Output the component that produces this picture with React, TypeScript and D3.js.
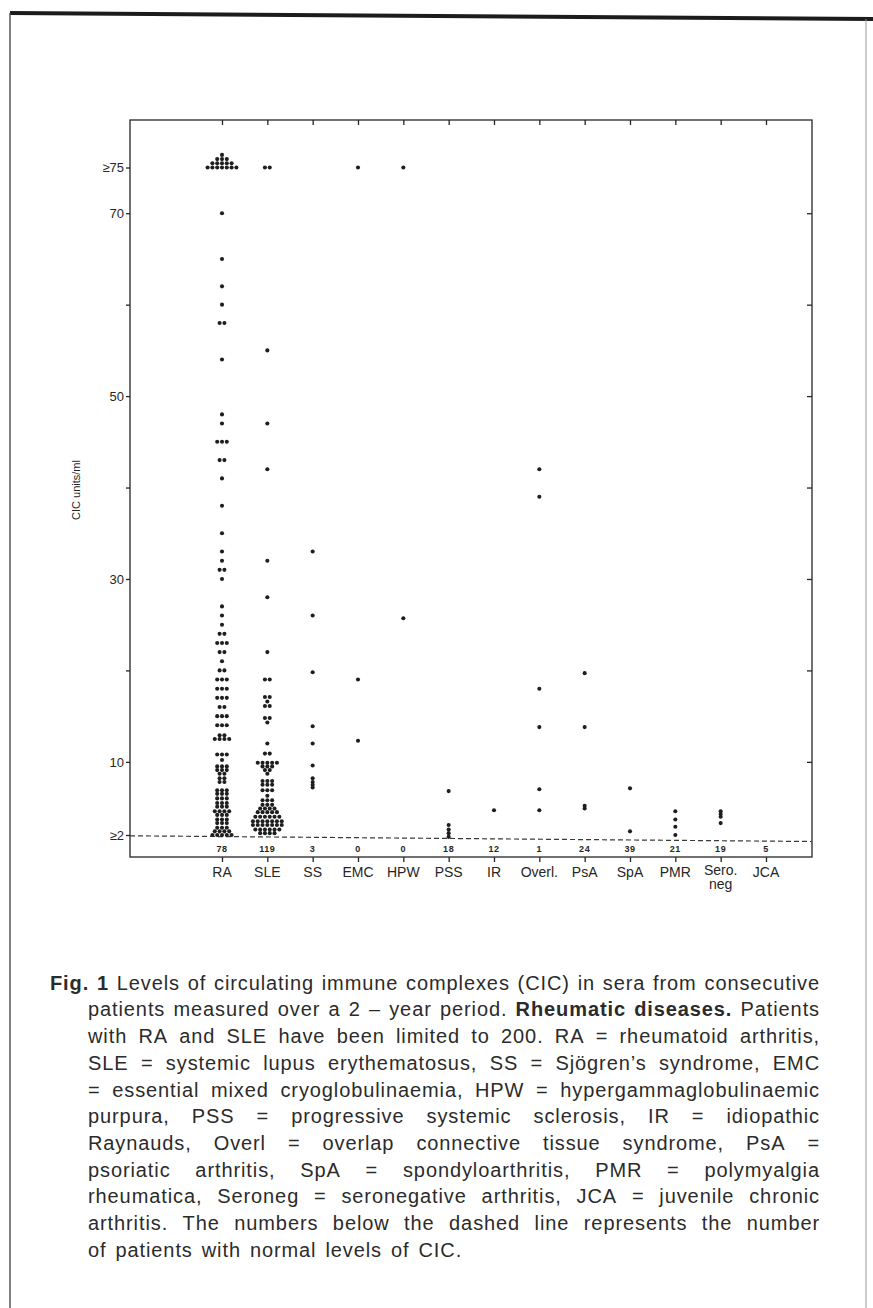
import React, { useEffect, useRef } from 'react';
import * as d3 from 'd3';

const categories = ['RA', 'SLE', 'SS', 'EMC', 'HPW', 'PSS', 'IR', 'Overl.', 'PsA', 'SpA', 'PMR', 'Sero.', 'JCA'];
const normalCounts = [78, 119, 3, 0, 0, 18, 12, 1, 24, 39, 21, 19, 5];

// CIC units/ml of the patients above normal; 75 stands for >=75
const raValues = [
  75, 75, 75, 75, 75, 75, 75, 75, 75, 75, 75, 75, 75, 75, 75, 75,
  70, 65, 62, 60, 58, 58, 54, 48, 47, 45, 45, 45, 43, 43, 41, 38, 35, 33, 32, 31, 31, 30,
  27, 26, 25, 24, 24, 23, 23, 23, 22, 22, 21, 20, 20, 19, 19, 19, 18, 18, 18, 17, 17, 17,
  16, 16, 15, 15, 15, 14, 14, 14, 12.9, 12.9, 12.5, 12.5, 12.5, 12.5, 10.8, 10.8, 10.8, 10.2,
  9.5, 9.5, 9.5, 9.1, 9.1, 9.1, 8.7, 8.7, 8.2, 8.2, 7.8, 7.8,
  6.9, 6.9, 6.9, 6.5, 6.5, 6.5, 6.0, 6.0, 6.0, 5.5, 5.5, 5.5, 5.1, 5.1, 5.1,
  4.6, 4.6, 4.6, 4.6, 4.2, 4.2, 4.2, 3.7, 3.7, 3.7, 3.3, 3.3, 3.3, 2.8, 2.8, 2.8,
  2.4, 2.4, 2.4, 2.4, 2.0, 2.0, 2.0, 2.0, 2.0,
];
const sleValues = [
  75, 75, 55, 47, 42, 32, 28, 22, 19, 19, 17.1, 17.1, 16.6, 16.1, 16.1, 14.8, 14.8, 14.3, 12,
  10.9, 10.9, 9.9, 9.9, 9.9, 9.9, 9.9, 9.5, 9.5, 9.5, 9.1, 9.1, 8.7,
  7.9, 7.9, 7.9, 7.5, 7.5, 7.5, 6.9, 6.9, 6.9, 6.3, 5.8, 5.8, 5.8,
  5.3, 5.3, 5.3, 4.9, 4.9, 4.9, 4.9, 4.5, 4.5, 4.5, 4.5, 4.5,
  4.0, 4.0, 4.0, 4.0, 4.0, 4.0, 3.5, 3.5, 3.5, 3.5, 3.5, 3.5, 3.5,
  3.1, 3.1, 3.1, 3.1, 3.1, 3.1, 3.1, 2.6, 2.6, 2.6, 2.6, 2.6, 2.6, 2.2, 2.2, 2.2, 2.2,
];
const ssValues = [33, 26, 19.8, 13.9, 12, 9.6, 8.2, 7.8, 7.5, 7.2];
const emcValues = [75, 19, 12.3];
const hpwValues = [75, 25.7];
const pssValues = [6.8, 3.1, 2.6, 2.2, 1.8];
const irValues = [4.7];
const overlValues = [42, 39, 18, 13.8, 7, 4.7];
const psaValues = [19.7, 13.8, 5.2, 4.9];
const spaValues = [7.1, 2.4];
const pmrValues = [4.6, 3.7, 2.9, 2.0];
const seroValues = [4.6, 4.3, 4.0, 3.3];
const jcaValues: number[] = [];

const allValues = [raValues, sleValues, ssValues, emcValues, hpwValues, pssValues, irValues,
  overlValues, psaValues, spaValues, pmrValues, seroValues, jcaValues];

const yTicks = [2, 10, 20, 30, 40, 50, 60, 70, 75];
const yTickLabels = ['≥2', '10', '', '30', '', '50', '', '70', '≥75'];
const rightTicks = [10, 20, 30, 40, 50, 60, 70];

// words starting with * are bold
const captionLines = [
  '*Fig. *1 Levels of circulating immune complexes (CIC) in sera from consecutive',
  'patients measured over a 2 – year period. *Rheumatic *diseases. Patients',
  'with RA and SLE have been limited to 200. RA = rheumatoid arthritis,',
  'SLE = systemic lupus erythematosus, SS = Sjögren’s syndrome, EMC',
  '= essential mixed cryoglobulinaemia, HPW = hypergammaglobulinaemic',
  'purpura, PSS = progressive systemic sclerosis, IR = idiopathic',
  'Raynauds, Overl = overlap connective tissue syndrome, PsA =',
  'psoriatic arthritis, SpA = spondyloarthritis, PMR = polymyalgia',
  'rheumatica, Seroneg = seronegative arthritis, JCA = juvenile chronic',
  'arthritis. The numbers below the dashed line represents the number',
  'of patients with normal levels of CIC.',
];

const FONT = '"Liberation Sans", Arial, Helvetica, sans-serif';

export default function App() {
  const ref = useRef<SVGSVGElement>(null);

  useEffect(() => {
    const svg = d3.select(ref.current);
    svg.selectAll('*').remove();
    const W = 873, H = 1308;
    const ink = '#262626';
    const frame = { left: 130, right: 812, top: 120, bottom: 857 };

    svg.append('rect').attr('width', W).attr('height', H).attr('fill', '#fff');

    // page border
    svg.append('line').attr('x1', 10).attr('y1', 13).attr('x2', W).attr('y2', 19)
      .attr('stroke', '#1c1c1c').attr('stroke-width', 4);
    svg.append('line').attr('x1', 10).attr('y1', 13).attr('x2', 10).attr('y2', H)
      .attr('stroke', '#555').attr('stroke-width', 1.5);
    svg.append('line').attr('x1', 866).attr('y1', 19).attr('x2', 866).attr('y2', H)
      .attr('stroke', '#999').attr('stroke-width', 1);

    const x = d3.scalePoint<string>().domain(categories).range([222, 766]);
    const y = d3.scaleLinear().domain([2, 75]).range([835, 167.5]);

    const g = svg.append('g');

    g.append('rect')
      .attr('x', frame.left).attr('y', frame.top)
      .attr('width', frame.right - frame.left).attr('height', frame.bottom - frame.top)
      .attr('fill', 'none').attr('stroke', ink).attr('stroke-width', 1.3);

    // left axis
    const left = g.append('g').attr('transform', `translate(${frame.left},0)`)
      .call(d3.axisLeft(y).tickValues(yTicks).tickSize(4).tickPadding(2)
        .tickFormat((d, i) => yTickLabels[i]));
    left.select('.domain').remove();
    left.selectAll('line').attr('stroke', ink).attr('stroke-width', 1.3);
    left.selectAll('text').attr('font-family', FONT).attr('font-size', 13).attr('fill', ink);

    // right inner ticks
    const right = g.append('g').attr('transform', `translate(${frame.right},0)`)
      .call(d3.axisLeft(y).tickValues(rightTicks).tickSize(5).tickFormat(() => ''));
    right.select('.domain').remove();
    right.selectAll('line').attr('stroke', ink).attr('stroke-width', 1.3);

    // top inner ticks
    const top = g.append('g').attr('transform', `translate(0,${frame.top})`)
      .call(d3.axisBottom(x).tickSize(5).tickFormat(() => ''));
    top.select('.domain').remove();
    top.selectAll('line').attr('stroke', ink).attr('stroke-width', 1.3);

    // bottom axis
    const bottom = g.append('g').attr('transform', `translate(0,${frame.bottom})`)
      .call(d3.axisBottom(x).tickSize(5).tickFormat(() => ''));
    bottom.select('.domain').remove();
    bottom.selectAll('line').attr('stroke', ink).attr('stroke-width', 1.3);

    categories.forEach((c) => {
      const two = c === 'Sero.';
      g.append('text')
        .attr('x', x(c)!).attr('y', two ? 875 : 877)
        .attr('text-anchor', 'middle')
        .attr('font-family', FONT).attr('font-size', 14).attr('fill', ink)
        .text(c);
      if (two) {
        g.append('text')
          .attr('x', x(c)!).attr('y', 889)
          .attr('text-anchor', 'middle')
          .attr('font-family', FONT).attr('font-size', 14).attr('fill', ink)
          .text('neg');
      }
    });

    // y label
    g.append('text')
      .attr('transform', `translate(80,490) rotate(-90)`)
      .attr('text-anchor', 'middle')
      .attr('font-family', FONT).attr('font-size', 11).attr('fill', ink)
      .text('CIC units/ml');

    // dashed normal line
    g.append('line')
      .attr('x1', frame.left).attr('y1', y(2) + 0.8)
      .attr('x2', frame.right).attr('y2', y(2) + 6.5)
      .attr('stroke', '#3a3a3a').attr('stroke-width', 1.2)
      .attr('stroke-dasharray', '5,3');

    // normal counts
    g.selectAll('text.count')
      .data(categories)
      .enter().append('text')
      .attr('class', 'count')
      .attr('x', (d) => x(d)!)
      .attr('y', 851.5)
      .attr('text-anchor', 'middle')
      .attr('font-family', FONT).attr('font-size', 9).attr('font-weight', 'bold')
      .attr('letter-spacing', 0.6).attr('fill', ink)
      .text((d, i) => normalCounts[i]);

    // dots
    const dotGap = 4.8, rowGap = 4.2, r = 2.05;
    const dots: { cx: number; cy: number }[] = [];
    categories.forEach((c, ci) => {
      const groups = d3.rollups(allValues[ci], (v) => v.length, (d) => d);
      groups.forEach(([v, n]) => {
        let remaining = n, k = 0;
        while (remaining > 0) {
          const cap = v >= 75 && n > 3 ? Math.max(1, 7 - 2 * k) : n;
          const m = Math.min(cap, remaining);
          for (let j = 0; j < m; j++) {
            dots.push({ cx: x(c)! + (j - (m - 1) / 2) * dotGap, cy: y(v) - k * rowGap });
          }
          remaining -= m;
          k++;
        }
      });
    });
    g.selectAll('circle.dot')
      .data(dots)
      .enter().append('circle')
      .attr('class', 'dot')
      .attr('cx', (d) => d.cx).attr('cy', (d) => d.cy).attr('r', r)
      .attr('fill', '#1e1e1e');

    // caption, justified word by word
    const cap = svg.append('g')
      .attr('font-family', FONT).attr('font-size', 20).attr('letter-spacing', 0.9)
      .attr('fill', '#2b2b2b');
    captionLines.forEach((line, li) => {
      const words = line.split(' ');
      const x0 = li === 0 ? 50 : 88, x1 = 820;
      const baseline = 989.7 + li * 26.7;
      const nodes = words.map((w) => {
        const bold = w.startsWith('*');
        return cap.append('text')
          .attr('y', baseline)
          .attr('font-weight', bold ? 'bold' : 'normal')
          .text(bold ? w.slice(1) : w);
      });
      const widths = nodes.map((n) => (n.node() as SVGTextElement).getComputedTextLength());
      const total = d3.sum(widths);
      const justify = li < captionLines.length - 1;
      const gap = justify ? (x1 - x0 - total) / (words.length - 1) : 9;
      let cx = x0;
      nodes.forEach((n, i) => {
        n.attr('x', cx);
        cx += widths[i] + gap;
      });
    });
  }, []);

  return (
    <svg ref={ref} width={873} height={1308}
      style={{ position: 'absolute', left: 0, top: 0, display: 'block' }} />
  );
}
